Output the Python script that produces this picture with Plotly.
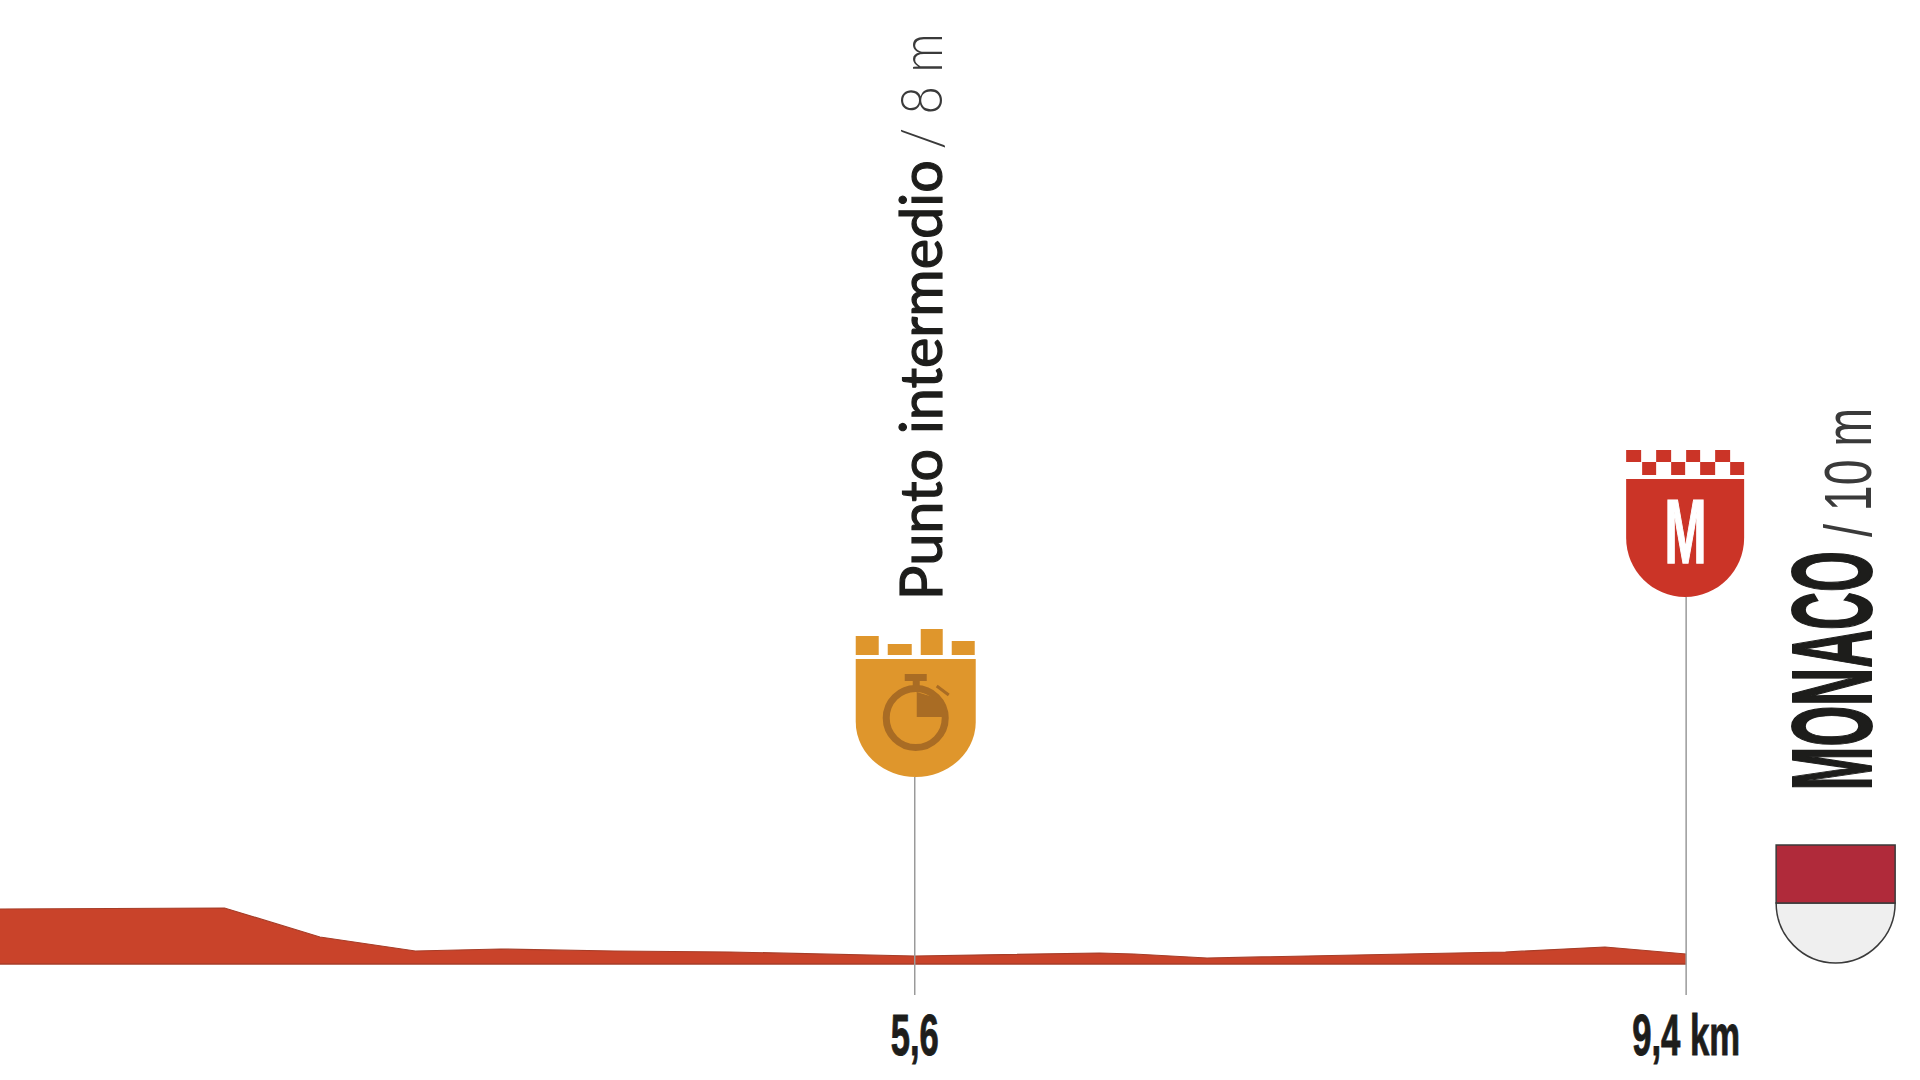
import json
import plotly.graph_objects as go

# ---- data ----
km = [1.094, 2.2, 2.67, 3.14, 3.56, 4.12, 4.69, 5.6, 6.51, 6.68, 7.04, 7.57, 8.51, 9.0, 9.4]
elevation_m = [55, 56, 27, 13, 15, 13, 12, 8, 11, 10, 6, 8, 12, 17, 10]
checkpoint_km = [5.6, 9.4]
checkpoint_labels = ["5,6", "9,4 km"]

RED_AREA = "#C9432A"
RED_EDGE = "#A63D28"
GOLD = "#DF962C"
BROWN = "#A96C24"
RED = "#CB3427"
INK = "#1D1D1B"
GREY = "#9A9A9A"
NARROW = "Liberation Sans"

fig = go.Figure()
fig.add_trace(go.Scatter(x=km, y=elevation_m, mode="lines", fill="tozeroy",
                         fillcolor=RED_AREA, line=dict(color=RED_EDGE, width=1.2),
                         hoverinfo="skip", showlegend=False))
fig.add_trace(go.Scatter(x=[km[0], km[-1]], y=[0, 0], mode="lines",
                         line=dict(color=RED_EDGE, width=1.5), hoverinfo="skip", showlegend=False))
# leader lines
fig.add_trace(go.Scatter(x=[5.6, 5.6], y=[-31, 187], mode="lines",
                         line=dict(color=GREY, width=1.5), hoverinfo="skip", showlegend=False))
fig.add_trace(go.Scatter(x=[9.4, 9.4], y=[-31, 367], mode="lines",
                         line=dict(color=GREY, width=1.5), hoverinfo="skip", showlegend=False))

shapes = []


def pix(anchor, path, fill, line=None, width=0):
    shapes.append(dict(type="path", xref="x", yref="y", xsizemode="pixel", ysizemode="pixel",
                       xanchor=anchor, yanchor=0, path=path, fillcolor=fill,
                       line=dict(color=line or fill, width=width), layer="above"))


def box(anchor, lx, x0, x1, y0, y1, fill):
    a, b = x0 - lx, x1 - lx
    c, d = 964 - y0, 964 - y1
    pix(anchor, f"M{a},{c} L{b},{c} L{b},{d} L{a},{d} Z", fill)


def shield(anchor, lx, cx, half, top, side, bottom, fill, line=None, width=0):
    c = cx - lx
    t, s, b = 964 - top, 964 - side, 964 - bottom
    k = (s - b) * 0.55
    path = (f"M{c-half},{t} L{c+half},{t} L{c+half},{s} "
            f"C{c+half},{s-k} {c+half*0.55},{b} {c},{b} "
            f"C{c-half*0.55},{b} {c-half},{s-k} {c-half},{s} Z")
    pix(anchor, path, fill, line, width)


# gold intermediate shield
LX1 = 915
for x0, x1, y0, y1 in [(856, 879, 636, 655), (888, 912, 644, 655), (921, 943, 629, 655), (952, 975, 641, 655)]:
    box(5.6, LX1, x0, x1, y0, y1, GOLD)
shield(5.6, LX1, 916, 60, 659, 722, 777, GOLD)
shapes.append(dict(type="circle", xref="x", yref="y", xsizemode="pixel", ysizemode="pixel",
                   xanchor=5.6, yanchor=0, x0=916 - 29.5 - LX1, x1=916 + 29.5 - LX1,
                   y0=964 - 747.5, y1=964 - 688.5, line=dict(color=BROWN, width=7), layer="above"))
pix(5.6, f"M{917-LX1},{964-692} L{943-LX1},{964-700} L{948-LX1},{964-717} L{917-LX1},{964-717} Z", BROWN)
box(5.6, LX1, 905, 927, 674, 681, BROWN)
box(5.6, LX1, 913, 920, 681, 692, BROWN)
pix(5.6, f"M{937-LX1},{964-686} L{949-LX1},{964-695}", "rgba(0,0,0,0)", BROWN, 3)

# red finish shield
LX2 = 1686
for x0, x1 in [(1626, 1641), (1656, 1671), (1686, 1700), (1715, 1730)]:
    box(9.4, LX2, x0, x1, 450, 462, RED)
for x0, x1 in [(1642, 1656), (1671, 1685), (1700, 1715), (1730, 1744)]:
    box(9.4, LX2, x0, x1, 462, 475, RED)
shield(9.4, LX2, 1685, 59, 479, 538, 597, RED)

# Monaco flag shield
LX3 = 1686
shield(9.4, LX3, 1835.5, 59.5, 903, 903, 963, "#EFEFEF", "#3A3A3A", 1.5)
pix(9.4, f"M{1776-LX3},{964-845} L{1895-LX3},{964-845} L{1895-LX3},{964-903} L{1776-LX3},{964-903} Z",
    "#B02A3A", "#3A3A3A", 1.5)


def rot(text, anchor, px, py, size, family, color, weight=400, angle=-90):
    lx = LX1 if anchor == 5.6 else LX2
    return dict(text=text, x=anchor, y=964 - py, xref="x", yref="y", xshift=px - lx, showarrow=False,
                xanchor="center", yanchor="middle", textangle=angle,
                font=dict(size=size, family=family, color=color, weight=weight))


annotations = [
    rot("Punto intermedio", 5.6, 919, 380, 58, "Lato", INK, 400),
    rot("/ 8 m", 5.6, 919, 91, 58, "Lato", "#3A3A3A", 300),
    rot("MONACO", 9.4, 1832, 671, 113, NARROW, INK, 700),
    rot("/ 10 m", 9.4, 1848, 473, 66, NARROW, "#3A3A3A", 400),
    rot("M", 9.4, 1685, 532, 90, NARROW, "#FFFFFF", 700, 0),
]

fig.update_layout(
    width=1920, height=1080, margin=dict(l=0, r=0, t=0, b=85, pad=0),
    paper_bgcolor="#FFFFFF", plot_bgcolor="#FFFFFF", showlegend=False,
    xaxis=dict(range=[1.094, 10.552], showgrid=False, zeroline=False, showline=False,
               tickmode="array", tickvals=checkpoint_km, ticktext=checkpoint_labels, ticks="",
               ticklabelstandoff=1,
               tickfont=dict(size=58, family=NARROW, color=INK, weight=700)),
    yaxis=dict(range=[-31, 964], visible=False, showgrid=False, zeroline=False),
    shapes=shapes, annotations=annotations,
)

# condensed display type: squeeze the real text to the reference's set widths
text_lengths = {"Punto intermedio": 440, "/ 8 m": 116, "MONACO": 239, "/ 10 m": 129,
                "M": 42, "5,6": 48, "9,4 km": 108}
# extra stroke keeps the stems heavy after horizontal squeezing
stem_strokes = {"Punto intermedio": 1.2, "MONACO": 2, "M": 1.5, "5,6": 1, "9,4 km": 1}
post = """
document.body.style.margin='0';
document.body.style.overflow='hidden';
var lens=%s, strokes=%s;
document.querySelectorAll('svg text').forEach(function(t){
  var k=t.textContent;
  if(lens[k]){t.setAttribute('textLength',lens[k]);t.setAttribute('lengthAdjust','spacingAndGlyphs');}
  if(strokes[k]){t.style.stroke=t.style.fill;t.style.strokeWidth=strokes[k]+'px';}
});
""" % (json.dumps(text_lengths), json.dumps(stem_strokes))

fig.write_html("out.html", post_script=post, config={"displayModeBar": False})
